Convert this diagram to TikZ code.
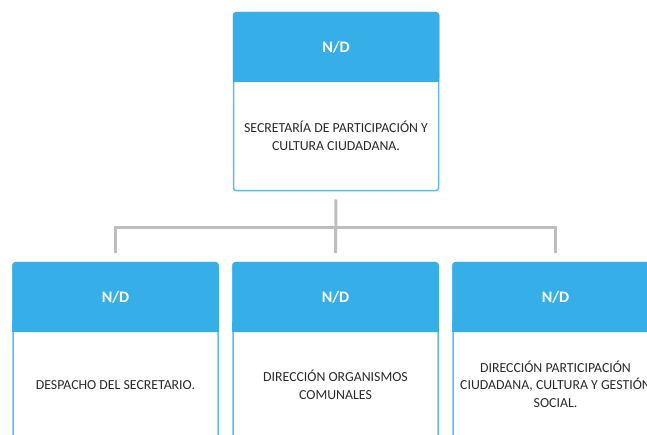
\documentclass[tikz,border=0pt]{standalone}
\usepackage{fontspec}
\setmainfont{Carlito}
\usetikzlibrary{calc}
\definecolor{headblue}{HTML}{36AFE9}
\definecolor{frameblue}{HTML}{5CBCEA}
\definecolor{linkgray}{HTML}{BEBEBE}
\definecolor{inkgray}{HTML}{2A2A2A}
\def\headfill(#1){\fill[headblue, rounded corners=3pt] (#1.north west) rectangle ([yshift=-70pt]#1.north east);
	\fill[headblue] ([yshift=-60pt]#1.north west) rectangle ([yshift=-70pt]#1.north east);}

\begin{document}
\begin{tikzpicture}[x=1pt, y=-1pt,
		boxframe/.style={draw=frameblue, line width=1.5pt, rounded corners=3pt, minimum width=205pt, minimum height=178pt, anchor=north, inner sep=0pt},
		headtext/.style={text=white, font=\fontsize{16}{19}\selectfont\bfseries},
		bodytext/.style={text=inkgray, align=center, font=\fontsize{13.8}{17.5}\selectfont},
		link/.style={draw=linkgray, line width=3pt}]
		%%%%% START %%%%%
		
		\useasboundingbox (0,0) rectangle (647,435);
		\clip (0,0) rectangle (647,435);
		
		\node[boxframe] (sec) at (336, 12) {};
		\node[boxframe] (desp) at (115.5, 262) {};
		\node[boxframe] (orga) at (335.5, 262) {};
		\node[boxframe] (part) at (555.5, 262) {};
		
		\headfill(sec)
		\headfill(desp)
		\headfill(orga)
		\headfill(part)
		
		\node[headtext] (sec-h) at ([yshift=-35pt]sec.north) {N/D};
		\node[headtext] (desp-h) at ([yshift=-35pt]desp.north) {N/D};
		\node[headtext] (orga-h) at ([yshift=-35pt]orga.north) {N/D};
		\node[headtext] (part-h) at ([yshift=-35pt]part.north) {N/D};
		
		\node[bodytext] (sec-t) at ([yshift=-124pt]sec.north) {SECRETARÍA DE PARTICIPACIÓN Y\\CULTURA CIUDADANA.};
		\node[bodytext] (desp-t) at ([yshift=-123pt]desp.north) {DESPACHO DEL SECRETARIO.};
		\node[bodytext] (orga-t) at ([yshift=-123pt]orga.north) {DIRECCIÓN ORGANISMOS\\COMUNALES};
		\node[bodytext] (part-t) at ([yshift=-122pt]part.north) {DIRECCIÓN PARTICIPACIÓN\\CIUDADANA, CULTURA Y GESTIÓN\\SOCIAL.};
		
		% connectors
		\coordinate (bus) at (336, 228);
		\draw[link, shorten <=8pt, shorten >=9pt] (sec.south) -- (orga.north);
		\draw[link, shorten <=9pt, shorten >=9pt] (desp.north) |- (bus) -| (part.north);
		
		%%%%% END %%%%%
	\end{tikzpicture}
\end{document}
